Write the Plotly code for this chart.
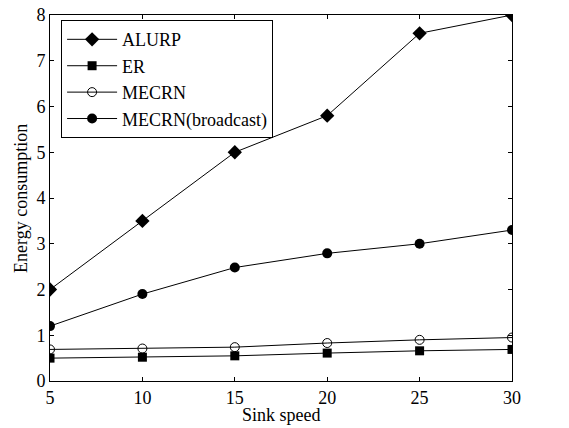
import plotly.graph_objects as go

sink_speed = [5, 10, 15, 20, 25, 30]
alurp = [2.0, 3.5, 5.0, 5.8, 7.6, 8.0]
er = [0.50, 0.52, 0.55, 0.61, 0.66, 0.69]
mecrn = [0.69, 0.71, 0.74, 0.83, 0.90, 0.95]
mecrn_broadcast = [1.2, 1.9, 2.48, 2.79, 3.0, 3.3]

FONT = "Liberation Serif, Times New Roman, serif"

fig = go.Figure()
fig.add_trace(go.Scatter(x=sink_speed, y=alurp, name="ALURP", mode="lines+markers",
                         line=dict(color="black", width=1), marker=dict(symbol="diamond", size=11, color="black")))
fig.add_trace(go.Scatter(x=sink_speed, y=er, name="ER", mode="lines+markers",
                         line=dict(color="black", width=1), marker=dict(symbol="square", size=9, color="black")))
fig.add_trace(go.Scatter(x=sink_speed, y=mecrn, name="MECRN", mode="lines+markers",
                         line=dict(color="black", width=1),
                         marker=dict(symbol="circle-open", size=9, color="black", line=dict(width=1))))
fig.add_trace(go.Scatter(x=sink_speed, y=mecrn_broadcast, name="MECRN(broadcast)", mode="lines+markers",
                         line=dict(color="black", width=1), marker=dict(symbol="circle", size=10, color="black")))

axis_common = dict(showline=True, linecolor="black", linewidth=1, mirror="ticks", ticks="inside",
                   ticklen=4, tickcolor="black", showgrid=False, zeroline=False, automargin=False,
                   ticklabelstandoff=0, ticklabeloverflow="allow",
                   tickfont=dict(family=FONT, size=18, color="black"))

fig.update_layout(
    width=569, height=428,
    margin=dict(l=50, r=57, t=15, b=47),
    plot_bgcolor="white", paper_bgcolor="white",
    font=dict(family=FONT, color="black"),
    xaxis=dict(range=[5, 30], tickvals=[5, 10, 15, 20, 25, 30], **axis_common),
    yaxis=dict(range=[0, 8], tickvals=[0, 1, 2, 3, 4, 5, 6, 7, 8], **axis_common),
    legend=dict(x=0.024, y=0.986, xanchor="left", yanchor="top",
                bordercolor="black", borderwidth=1, bgcolor="white",
                font=dict(family=FONT, size=18, color="black"),
                tracegroupgap=0, itemwidth=50),
    annotations=[
        dict(text="Sink speed", xref="paper", yref="paper", x=0.5, y=0, xanchor="center", yanchor="top",
             yshift=-22, showarrow=False, font=dict(family=FONT, size=18, color="black")),
        dict(text="Energy consumption", xref="paper", yref="paper", x=0, y=0.5, xanchor="right",
             yanchor="middle", xshift=-17, textangle=-90, showarrow=False,
             font=dict(family=FONT, size=18, color="black")),
    ],
)

fig.write_html("out.html", config={"displayModeBar": False},
               post_script="document.body.style.margin='0';")
